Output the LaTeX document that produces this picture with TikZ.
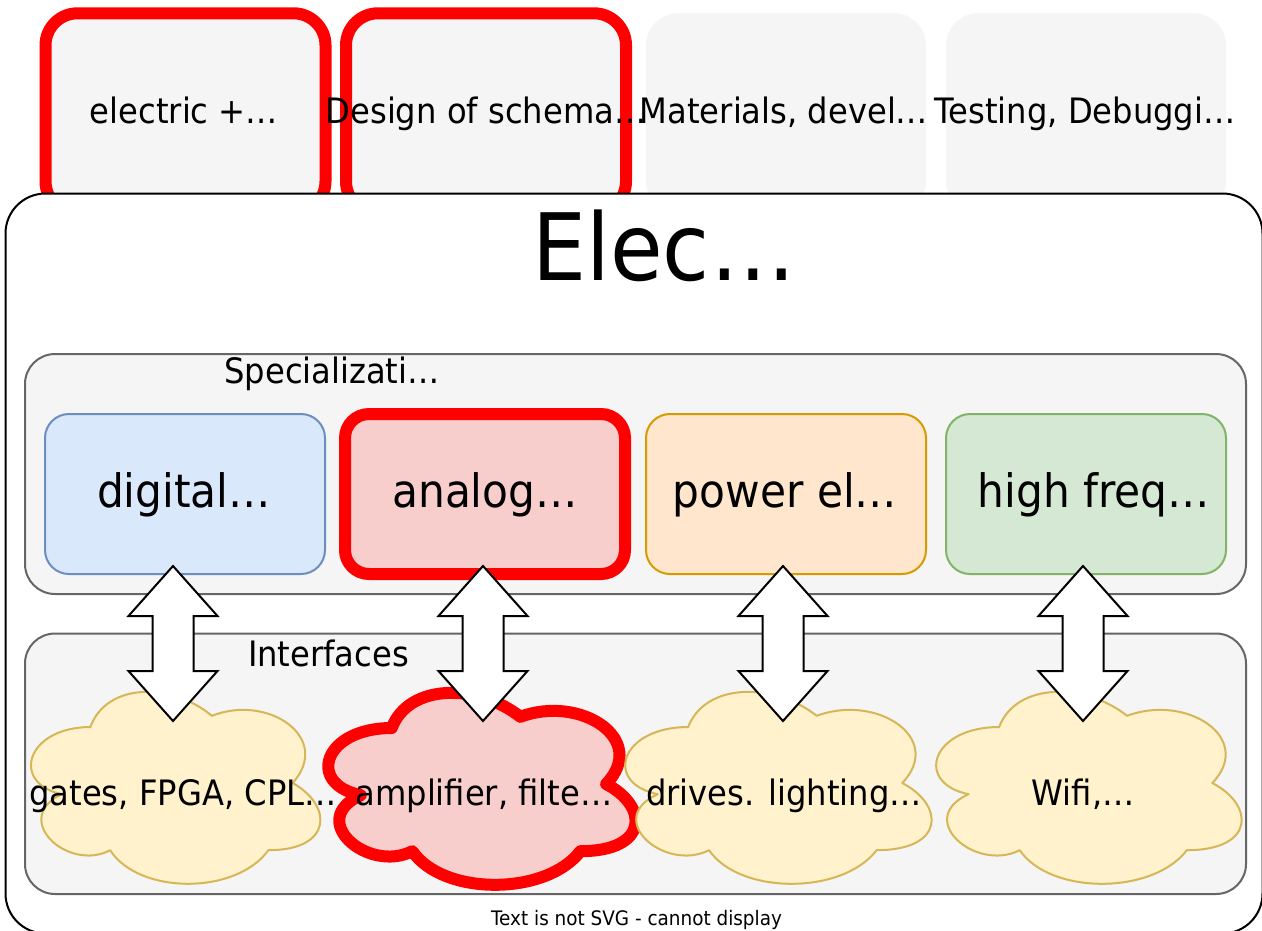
\documentclass[tikz,border=0pt]{standalone}
\usepackage{fontspec}
\setmainfont{DejaVu Sans}[FakeStretch=0.92]
\definecolor{cardgray}{HTML}{F5F5F5}
\definecolor{contline}{HTML}{666666}
\definecolor{dfill}{HTML}{DAE8FC}
\definecolor{dline}{HTML}{6C8EBF}
\definecolor{afill}{HTML}{F8CECC}
\definecolor{pfill}{HTML}{FFE6CC}
\definecolor{pline}{HTML}{D79B00}
\definecolor{hfill}{HTML}{D5E8D4}
\definecolor{hline}{HTML}{82B366}
\definecolor{cfill}{HTML}{FFF2CC}
\definecolor{cline}{HTML}{D6B656}
\definecolor{hotred}{HTML}{FF0000}
\newcommand\labelsize{\fontsize{35}{42}\selectfont}
\newcommand\boxsize{\fontsize{46}{55}\selectfont}
\newcommand\titlesize{\fontsize{93}{112}\selectfont}
\newcommand\footsize{\fontsize{20}{24}\selectfont}
\newcommand\cloudshape[5]{%
  \begin{scope}[shift={(#2,#3)}, xscale=#4, yscale=#5]
    \draw[#1] (0.25,0.25) .. controls (0.05,0.25) and (0,0.5) .. (0.16,0.55)
      .. controls (0,0.66) and (0.18,0.9) .. (0.31,0.8)
      .. controls (0.4,1) and (0.7,1) .. (0.8,0.8)
      .. controls (1,0.8) and (1,0.6) .. (0.875,0.5)
      .. controls (1,0.3) and (0.8,0.1) .. (0.625,0.2)
      .. controls (0.5,0.05) and (0.3,0.05) .. cycle;
  \end{scope}}
\tikzset{
  lbl/.style={font=\labelsize, anchor=base, inner sep=0},
  boxlbl/.style={font=\boxsize, anchor=base, inner sep=0},
  card/.style={rectangle, rounded corners=32, fill=cardgray, minimum width=280, minimum height=200, inner sep=0},
  hotcard/.style={card, draw=hotred, line width=12},
  mainbox/.style={rectangle, rounded corners=40, draw=black, fill=white, line width=2, minimum width=1257, minimum height=740, inner sep=0},
  container/.style={rectangle, rounded corners=30, draw=contline, fill=cardgray, line width=2, minimum width=1221, inner sep=0},
  specbox/.style={rectangle, rounded corners=24, line width=2, minimum width=280, minimum height=160, inner sep=0},
  cloudplain/.style={draw=cline, fill=cfill, line width=2, line join=round},
  cloudhot/.style={draw=hotred, fill=afill, line width=12, line join=round},
  blockarrow/.style={draw=black, fill=white, line width=2, line join=miter},
}
\begin{document}
\begin{tikzpicture}[x=1pt, y=-1pt]
\useasboundingbox (0,0) rectangle (1262,930);
% top cards
\node[hotcard] (card1) at (185.5,113.3) {};
\node[hotcard] (card2) at (486,113.3) {};
\node[card] (card3) at (786,113.3) {};
\node[card] (card4) at (1086,113.3) {};
\node[lbl] (card1t) at (184,123) {electric +…};
\node[lbl] (card2t) at (486,123) {Design of schema…};
\node[lbl] (card3t) at (784,123) {Materials, devel…};
\node[lbl] (card4t) at (1085,123) {Testing, Debuggi…};
% main box
\node[mainbox] (main) at (634,563.5) {};
\node[font=\titlesize, anchor=base, inner sep=0] (title) at (664,280) {Elec…};
\node[font=\footsize, anchor=base, inner sep=0] (foot) at (636.5,925) {Text is not SVG - cannot display};
% specializations
\node[container, minimum height=240] (spec) at (635.5,474) {};
\node[lbl] (spect) at (332,383) {Specializati…};
\node[specbox, draw=dline, fill=dfill] (dig) at (185,494) {};
\node[specbox, draw=hotred, fill=afill, line width=12] (ana) at (485,494) {};
\node[specbox, draw=pline, fill=pfill] (pow) at (786,494) {};
\node[specbox, draw=hline, fill=hfill] (hf) at (1086,494) {};
% interfaces
\node[container, minimum height=260.5] (intf) at (635.5,763.75) {};
\node[lbl] (intft) at (328.5,666.7) {Interfaces};
\cloudshape{cloudplain}{10}{671}{323}{224}
\cloudshape{cloudhot}{306}{672}{343}{224}
\cloudshape{cloudplain}{603}{671}{342}{224}
\cloudshape{cloudplain}{914}{671}{341}{224}
% double block arrows
\foreach \cx/\nm in {173/a1, 483/a2, 783/a3, 1083/a4}{
  \coordinate (\nm top) at (\cx,566);
  \coordinate (\nm bot) at (\cx,721);
  \draw[blockarrow] (\nm top) -- ++(44.5,50) -- ++(-24,0) -- ++(0,55) -- ++(24,0)
     -- (\nm bot) -- ++(-44.5,-50) -- ++(24,0) -- ++(0,-55) -- ++(-24,0) -- cycle;
}
% texts of boxes
\node[boxlbl] (digt) at (184,507) {digital…};
\node[boxlbl] (anat) at (485,507) {analog…};
\node[boxlbl] (powt) at (785,507) {power el…};
\node[boxlbl] (hft) at (1094,507) {high freq…};
\node[lbl] (c1t) at (183,805) {gates, FPGA, CPL…};
\node[lbl] (c2t) at (484,805) {amplifier, filte…};
\node[lbl] (c3t) at (784,805) {drives. lighting…};
\node[lbl] (c4t) at (1083,805) {Wifi,…};
\end{tikzpicture}
\end{document}
